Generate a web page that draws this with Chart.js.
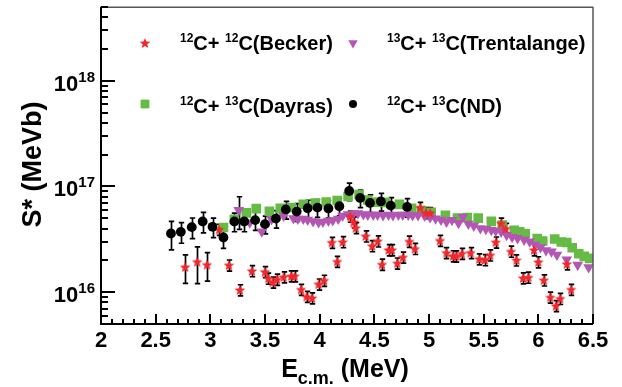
<!DOCTYPE html>
<html lang="en">
<head>
<meta charset="UTF-8">
<title>S* factor vs E c.m.</title>
<style>
  html, body { margin: 0; padding: 0; background: #fff; }
  #box { width: 622px; height: 387px; }
</style>
</head>
<body>
<div id="box"><canvas id="chart" width="622" height="387"></canvas></div>
<script src="https://cdn.jsdelivr.net/npm/chart.js"></script>
<script>
// ---- data (E in MeV, S* in MeV b) ----
var ndE = [2.64, 2.73, 2.83, 2.93, 3.02, 3.12, 3.22, 3.31, 3.41, 3.50, 3.60, 3.69, 3.79, 3.89, 3.98, 4.08, 4.18, 4.27, 4.37, 4.46, 4.56, 4.65, 4.80];
var ndS = [3.59e16, 3.72e16, 4.12e16, 4.66e16, 4.15e16, 3.29e16, 4.66e16, 4.66e16, 4.80e16, 4.40e16, 4.97e16, 6.06e16, 5.78e16, 6.22e16, 6.30e16, 6.19e16, 6.50e16, 9.05e16, 7.78e16, 6.98e16, 7.21e16, 6.58e16, 6.40e16];
var ndRelErr = [0.30, 0.22, 0.22, 0.22, 0.21, 0.21, 0.20, 0.20, 0.20, 0.19, 0.19, 0.19, 0.19, 0.19, 0.19, 0.19, 0.19, 0.19, 0.19, 0.19, 0.19, 0.19, 0.20];

var beckerE = [2.77, 2.88, 2.97, 3.08, 3.17, 3.27, 3.38, 3.50, 3.53, 3.57, 3.61, 3.67, 3.74, 3.77, 3.83, 3.88, 3.93, 3.99, 4.04, 4.11, 4.16, 4.21, 4.28, 4.31, 4.33, 4.42, 4.48, 4.53, 4.57, 4.63, 4.66, 4.71, 4.76, 4.82, 4.87, 4.92, 4.97, 5.01, 5.10, 5.16, 5.22, 5.25, 5.30, 5.38, 5.46, 5.51, 5.56, 5.61, 5.66, 5.70, 5.75, 5.80, 5.86, 5.91, 5.96, 6.00, 6.05, 6.11, 6.16, 6.20, 6.26, 6.30];
var beckerS = [1.73e16, 1.94e16, 1.82e16, 3.92e16, 1.80e16, 1.05e16, 1.59e16, 1.56e16, 1.35e16, 1.24e16, 1.32e16, 1.39e16, 1.42e16, 1.42e16, 1.06e16, 9.08e15, 8.80e15, 1.19e16, 1.29e16, 2.95e16, 1.95e16, 2.99e16, 5.21e16, 4.61e16, 4.06e16, 3.39e16, 2.74e16, 3.04e16, 1.83e16, 2.51e16, 2.51e16, 1.88e16, 2.14e16, 3.02e16, 2.58e16, 6.30e16, 5.62e16, 5.62e16, 3.08e16, 2.36e16, 2.20e16, 2.19e16, 2.32e16, 2.36e16, 2.06e16, 2.02e16, 2.24e16, 2.97e16, 4.48e16, 3.99e16, 2.43e16, 2.01e16, 1.36e16, 1.38e16, 2.51e16, 1.93e16, 1.30e16, 8.95e15, 7.43e15, 8.69e15, 1.85e16, 1.06e16];
var beckerRelErr = [0.30, 0.38, 0.30, 0.12, 0.12, 0.12, 0.12, 0.12, 0.12, 0.12, 0.12, 0.12, 0.12, 0.12, 0.12, 0.12, 0.12, 0.12, 0.12, 0.12, 0.12, 0.12, 0.12, 0.12, 0.12, 0.12, 0.12, 0.12, 0.12, 0.12, 0.12, 0.12, 0.12, 0.12, 0.12, 0.12, 0.12, 0.12, 0.12, 0.12, 0.12, 0.12, 0.12, 0.12, 0.12, 0.12, 0.12, 0.12, 0.12, 0.12, 0.12, 0.12, 0.12, 0.12, 0.12, 0.12, 0.12, 0.12, 0.12, 0.12, 0.12, 0.12];

var dayrasE = [3.12, 3.22, 3.33, 3.42, 3.54, 3.64, 3.74, 3.85, 3.96, 4.06, 4.16, 4.26, 4.36, 4.44, 4.53, 4.60, 4.73, 4.84, 4.93, 5.02, 5.15, 5.26, 5.35, 5.45, 5.57, 5.67, 5.78, 5.83, 5.88, 5.99, 6.04, 6.15, 6.21, 6.26, 6.31, 6.37, 6.42, 6.47];
var dayrasS = [4.09e16, 4.90e16, 5.62e16, 6.17e16, 5.83e16, 6.20e16, 6.33e16, 6.79e16, 6.98e16, 7.13e16, 7.37e16, 8.04e16, 8.39e16, 7.45e16, 7.10e16, 7.06e16, 6.76e16, 6.22e16, 5.93e16, 5.68e16, 5.32e16, 5.01e16, 5.08e16, 5.01e16, 4.67e16, 4.31e16, 3.85e16, 3.72e16, 3.57e16, 3.21e16, 3.05e16, 3.18e16, 2.98e16, 2.95e16, 2.63e16, 2.31e16, 2.18e16, 2.09e16];

var trentE = [3.26, 3.36, 3.47, 3.56, 3.67, 3.76, 3.80, 3.85, 3.89, 3.94, 3.99, 4.03, 4.08, 4.12, 4.17, 4.21, 4.26, 4.31, 4.35, 4.40, 4.44, 4.49, 4.53, 4.58, 4.63, 4.67, 4.72, 4.76, 4.81, 4.85, 4.90, 4.96, 5.01, 5.06, 5.11, 5.16, 5.21, 5.27, 5.31, 5.36, 5.41, 5.47, 5.52, 5.57, 5.61, 5.66, 5.71, 5.76, 5.81, 5.87, 5.92, 5.97, 6.02, 6.07, 6.12, 6.17, 6.26, 6.36, 6.46];
var trentS = [5.96e16, 4.56e16, 3.75e16, 4.90e16, 5.27e16, 4.99e16, 4.94e16, 4.94e16, 4.83e16, 4.67e16, 4.57e16, 4.62e16, 4.73e16, 4.78e16, 4.94e16, 5.27e16, 5.44e16, 5.56e16, 5.56e16, 5.44e16, 5.38e16, 5.38e16, 5.38e16, 5.33e16, 5.38e16, 5.33e16, 5.38e16, 5.38e16, 5.38e16, 5.33e16, 5.33e16, 5.27e16, 5.10e16, 4.97e16, 4.83e16, 4.62e16, 4.80e16, 4.50e16, 5.15e16, 4.43e16, 4.24e16, 4.02e16, 3.95e16, 3.86e16, 3.81e16, 3.72e16, 3.47e16, 3.32e16, 3.24e16, 3.12e16, 3.01e16, 2.81e16, 2.66e16, 2.49e16, 2.42e16, 2.26e16, 2.03e16, 1.81e16, 1.72e16];
var trentRelErr = [0.34]; // only the first point carries a bar

var xTickValues = [2, 2.5, 3, 3.5, 4, 4.5, 5, 5.5, 6, 6.5];
var xTickLabels = ['2', '2.5', '3', '3.5', '4', '4.5', '5', '5.5', '6', '6.5'];
var yTickExps = [16, 17, 18];

var FONT = '"Liberation Sans", Arial, Helvetica, sans-serif';

function pts(xs, ys) {
    return xs.map(function (v, i) { return { x: v, y: ys[i] }; });
}

// filled five point star (ROOT marker 29 look-alike)
function makeStar(rOut, rIn, color) {
    var c = document.createElement('canvas');
    var s = 14;
    c.width = s; c.height = s;
    var g = c.getContext('2d');
    g.translate(s / 2, s / 2 + 0.5);
    g.beginPath();
    for (var i = 0; i < 10; i++) {
        var r = i % 2 ? rIn : rOut;
        var a = -Math.PI / 2 + i * Math.PI / 5;
        g.lineTo(r * Math.cos(a), r * Math.sin(a));
    }
    g.closePath();
    g.fillStyle = color;
    g.fill();
    return c;
}
var RED = '#f2262b', MAG = '#b456b4', GREEN = '#66bb44';
var star = makeStar(5.6, 2.4, RED);

// vertical error bars with small caps, drawn under the markers
var errorBars = {
    id: 'errorBars',
    beforeDatasetsDraw: function (chart) {
        var ctx = chart.ctx, y = chart.scales.y, x = chart.scales.x;
        ctx.save();
        ctx.strokeStyle = '#000';
        ctx.lineWidth = 1.7;
        chart.data.datasets.forEach(function (ds) {
            if (!ds.relErr) return;
            ds.data.forEach(function (p, i) {
                var e = ds.relErr[i] || 0;
                if (!e) return;
                var px = Math.round(x.getPixelForValue(p.x)) + 0.5;
                var top = y.getPixelForValue(p.y * (1 + e));
                var bot = y.getPixelForValue(p.y * (1 - e));
                ctx.beginPath();
                ctx.moveTo(px, top); ctx.lineTo(px, bot);
                ctx.moveTo(px - 2.7, top); ctx.lineTo(px + 2.7, top);
                ctx.moveTo(px - 2.7, bot); ctx.lineTo(px + 2.7, bot);
                ctx.stroke();
            });
        });
        ctx.restore();
    }
};

function supText(ctx, parts, x, base) {
    // parts: [text, size, dy]
    parts.forEach(function (p) {
        ctx.font = 'bold ' + p[1] + 'px ' + FONT;
        ctx.fillText(p[0], x, base + p[2]);
        x += ctx.measureText(p[0]).width;
    });
    return x;
}

var frame = {
    id: 'frame',
    afterDraw: function (chart) {
        var ctx = chart.ctx, a = chart.chartArea, x = chart.scales.x, y = chart.scales.y;
        ctx.save();
        // top and right frame
        ctx.strokeStyle = '#555';
        ctx.lineWidth = 1.5;
        ctx.beginPath();
        ctx.moveTo(a.left, a.top + 0.5); ctx.lineTo(a.right, a.top + 0.5);
        ctx.moveTo(a.right, a.top); ctx.lineTo(a.right, a.bottom);
        ctx.stroke();

        // axes
        ctx.strokeStyle = '#000';
        ctx.lineWidth = 2;
        ctx.beginPath();
        ctx.moveTo(a.left, a.top); ctx.lineTo(a.left, a.bottom + 1);
        ctx.moveTo(a.left - 1, a.bottom); ctx.lineTo(a.right, a.bottom);
        ctx.stroke();

        // x ticks, pointing inward
        ctx.beginPath();
        for (var k = 0; k <= 45; k++) {
            var v = 2 + k * 0.1;
            var px = Math.round(x.getPixelForValue(v));
            var len = (k % 5 === 0) ? 10 : 5;
            ctx.moveTo(px, a.bottom); ctx.lineTo(px, a.bottom - len);
        }
        // y ticks (log)
        for (var e = 15; e <= 18; e++) {
            for (var m = 1; m <= 9; m++) {
                var val = m * Math.pow(10, e);
                if (val < y.min || val > y.max) continue;
                var py = Math.round(y.getPixelForValue(val));
                ctx.moveTo(a.left, py); ctx.lineTo(a.left + (m === 1 ? 14 : 7), py);
            }
        }
        ctx.stroke();

        // x tick labels
        ctx.fillStyle = '#000';
        ctx.textAlign = 'center';
        ctx.textBaseline = 'alphabetic';
        ctx.font = 'bold 22px ' + FONT;
        xTickValues.forEach(function (v, i) {
            ctx.fillText(xTickLabels[i], x.getPixelForValue(v), 347);
        });

        // y tick labels 10^n
        ctx.textAlign = 'left';
        yTickExps.forEach(function (n) {
            var ty = y.getPixelForValue(Math.pow(10, n));
            ctx.font = 'bold 15px ' + FONT;
            var sw = ctx.measureText(String(n)).width;
            ctx.font = 'bold 22px ' + FONT;
            var bw = ctx.measureText('10').width;
            var x0 = 95 - sw - bw;
            supText(ctx, [['10', 22, 10], [String(n), 15, 1]], x0, ty);
        });

        // x title  E_c.m. (MeV)
        ctx.font = 'bold 25px ' + FONT;
        var wE = ctx.measureText('E').width, wM = ctx.measureText(' (MeV)').width;
        ctx.font = 'bold 18px ' + FONT;
        var wS = ctx.measureText('c.m.').width;
        var cx = (a.left + a.right) / 2 - 2;
        var sx = cx - (wE + wS + wM) / 2;
        supText(ctx, [['E', 25, 0], ['c.m.', 18, 7], [' (MeV)', 25, 0]], sx, 377);

        // y title
        ctx.save();
        ctx.translate(41, (a.top + a.bottom) / 2 - 1);
        ctx.rotate(-Math.PI / 2);
        ctx.textAlign = 'center';
        ctx.font = 'bold 27px ' + FONT;
        ctx.fillText('S* (MeVb)', 0, 0);
        ctx.restore();

        // legend
        var rows = [
            { mx: 145, my: 43, tx: 180, base: 50, style: star, color: RED, r: 5, rot: 0, t: [['12', 12, -8.5], ['C+ ', 20, 0], ['12', 12, -8.5], ['C(Becker)', 20, 0]] },
            { mx: 353, my: 43, tx: 387, base: 50, style: 'triangle', color: MAG, r: 5.5, rot: 180, t: [['13', 12, -8.5], ['C+ ', 20, 0], ['13', 12, -8.5], ['C(Trentalange)', 20, 0]] },
            { mx: 145, my: 104, tx: 180, base: 113, style: 'rect', color: GREEN, r: 6.2, rot: 0, t: [['12', 12, -8.5], ['C+ ', 20, 0], ['13', 12, -8.5], ['C(Dayras)', 20, 0]] },
            { mx: 353, my: 104, tx: 387, base: 113, style: 'circle', color: '#000', r: 4, rot: 0, t: [['12', 12, -8.5], ['C+ ', 20, 0], ['13', 12, -8.5], ['C(ND)', 20, 0]] }
        ];
        rows.forEach(function (row) {
            ctx.fillStyle = row.color;
            Chart.helpers.drawPoint(ctx, { pointStyle: row.style, radius: row.r, rotation: row.rot, borderWidth: 0 }, row.mx, row.my);
            ctx.fillStyle = '#000';
            ctx.textAlign = 'left';
            supText(ctx, row.t, row.tx, row.base);
        });
        ctx.restore();
    }
};

new Chart(document.getElementById('chart').getContext('2d'), {
    type: 'scatter',
    data: {
        datasets: [
            { label: 'ND', data: pts(ndE, ndS), relErr: ndRelErr, pointStyle: 'circle', pointRadius: 4.9, backgroundColor: '#000', borderWidth: 0 },
            { label: 'Becker', data: pts(beckerE, beckerS), relErr: beckerRelErr, pointStyle: star, pointRadius: 5, backgroundColor: RED, borderWidth: 0 },
            { label: 'Trentalange', data: pts(trentE, trentS), relErr: trentRelErr, pointStyle: 'triangle', rotation: 180, pointRadius: 6.2, backgroundColor: MAG, borderWidth: 0 },
            { label: 'Dayras', data: pts(dayrasE, dayrasS), pointStyle: 'rect', pointRadius: 6.8, backgroundColor: GREEN, borderWidth: 0 }
        ]
    },
    options: {
        responsive: false,
        animation: false,
        devicePixelRatio: 1,
        layout: { padding: { left: 101, right: 29, top: 5, bottom: 63 } },
        plugins: { legend: { display: false }, tooltip: { enabled: false } },
        scales: {
            x: { type: 'linear', min: 2, max: 6.5, display: false },
            y: { type: 'logarithmic', min: 5e15, max: 5e18, display: false }
        }
    },
    plugins: [errorBars, frame]
});
</script>
</body>
</html>
